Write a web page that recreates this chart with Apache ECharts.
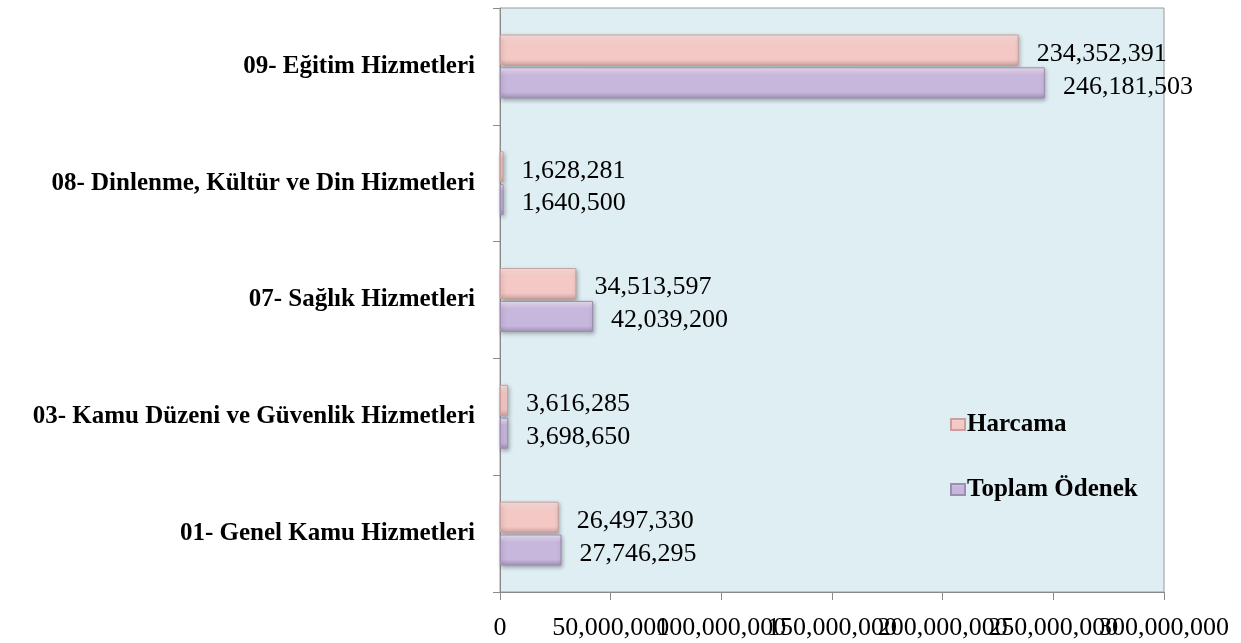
<!DOCTYPE html>
<html><head><meta charset="utf-8">
<script src="https://cdn.jsdelivr.net/npm/echarts@6/dist/echarts.min.js"></script>
<style>html,body{margin:0;padding:0;background:#fff}#c{width:1241px;height:643px}</style>
</head><body><div id="c"></div>
<script>
const categories = ['01- Genel Kamu Hizmetleri','03- Kamu Düzeni ve Güvenlik Hizmetleri','07- Sağlık Hizmetleri','08- Dinlenme, Kültür ve Din Hizmetleri','09- Eğitim Hizmetleri'];
const harcama = [26497330, 3616285, 34513597, 1628281, 234352391];
const toplamOdenek = [27746295, 3698650, 42039200, 1640500, 246181503];
const seriesNames = ['Harcama','Toplam Ödenek'];
const xTicks = [0, 50000000, 100000000, 150000000, 200000000, 250000000, 300000000];

const fmt = v => Number(v).toLocaleString('en-US');
const serif = '"Liberation Serif", "DejaVu Serif", serif';
function grad(top, mid, bot){
  return new echarts.graphic.LinearGradient(0,0,0,1,[
    {offset:0,color:top},{offset:0.25,color:mid},{offset:0.8,color:mid},{offset:1,color:bot}]);
}
// The tick labels overlap in the reference; split them over two identical axes
// so ECharts does not hide any of them.
function xAxisDef(evenOnly, showLine){
  return {
    type:'value', position:'bottom', min:xTicks[0], max:xTicks[xTicks.length-1], interval:xTicks[1]-xTicks[0],
    splitLine:{show:false},
    axisLine:{show:showLine,lineStyle:{color:'#8a8a8a'}},
    axisTick:{show:showLine,length:8,lineStyle:{color:'#8a8a8a'}},
    axisLabel:{fontFamily:serif,fontSize:26,color:'#000',margin:23,showMaxLabel:true,showMinLabel:true,
      formatter:v=>{const i=xTicks.indexOf(v); return (i%2===0)===evenOnly ? fmt(v) : '';}}
  };
}
const chart = echarts.init(document.getElementById('c'));
chart.setOption({
  animation:false,
  grid:{left:500,right:77,top:8,bottom:51,show:true,backgroundColor:'#DFEEF3',borderColor:'#9a9a9a',borderWidth:1},
  legend:{
    orient:'vertical', left:945, top:407, itemGap:40, itemWidth:14, itemHeight:11, icon:'rect',
    data:seriesNames,
    textStyle:{fontFamily:serif,fontWeight:'bold',fontSize:25,color:'#000',padding:[0,0,0,-3]}
  },
  xAxis:[xAxisDef(true,true), xAxisDef(false,false)],
  yAxis:{
    type:'category', data:categories,
    axisLine:{show:true,lineStyle:{color:'#8a8a8a'}},
    axisTick:{show:true,length:7,lineStyle:{color:'#8a8a8a'}},
    axisLabel:{fontFamily:serif,fontWeight:'bold',fontSize:25,color:'#000',margin:25}
  },
  series:[
    {name:seriesNames[0], type:'bar', data:harcama, barWidth:31, barGap:'6%',
     itemStyle:{color:grad('#FCE8E6','#F4C9C5','#D3A4A1'),borderColor:'#C9A09D',borderWidth:1,shadowBlur:4,shadowOffsetX:1,shadowOffsetY:2,shadowColor:'rgba(0,0,0,0.3)'},
     label:{show:true,position:'right',distance:18,offset:[0,4],fontFamily:serif,fontSize:26,color:'#000',formatter:p=>fmt(p.value)}},
    {name:seriesNames[1], type:'bar', data:toplamOdenek, barWidth:31,
     itemStyle:{color:grad('#F1E6F8','#C8B7DC','#A393B8'),borderColor:'#9D8DB2',borderWidth:1,shadowBlur:4,shadowOffsetX:1,shadowOffsetY:2,shadowColor:'rgba(0,0,0,0.3)'},
     label:{show:true,position:'right',distance:18,offset:[0,4],fontFamily:serif,fontSize:26,color:'#000',formatter:p=>fmt(p.value)}}
  ]
});
</script></body></html>
